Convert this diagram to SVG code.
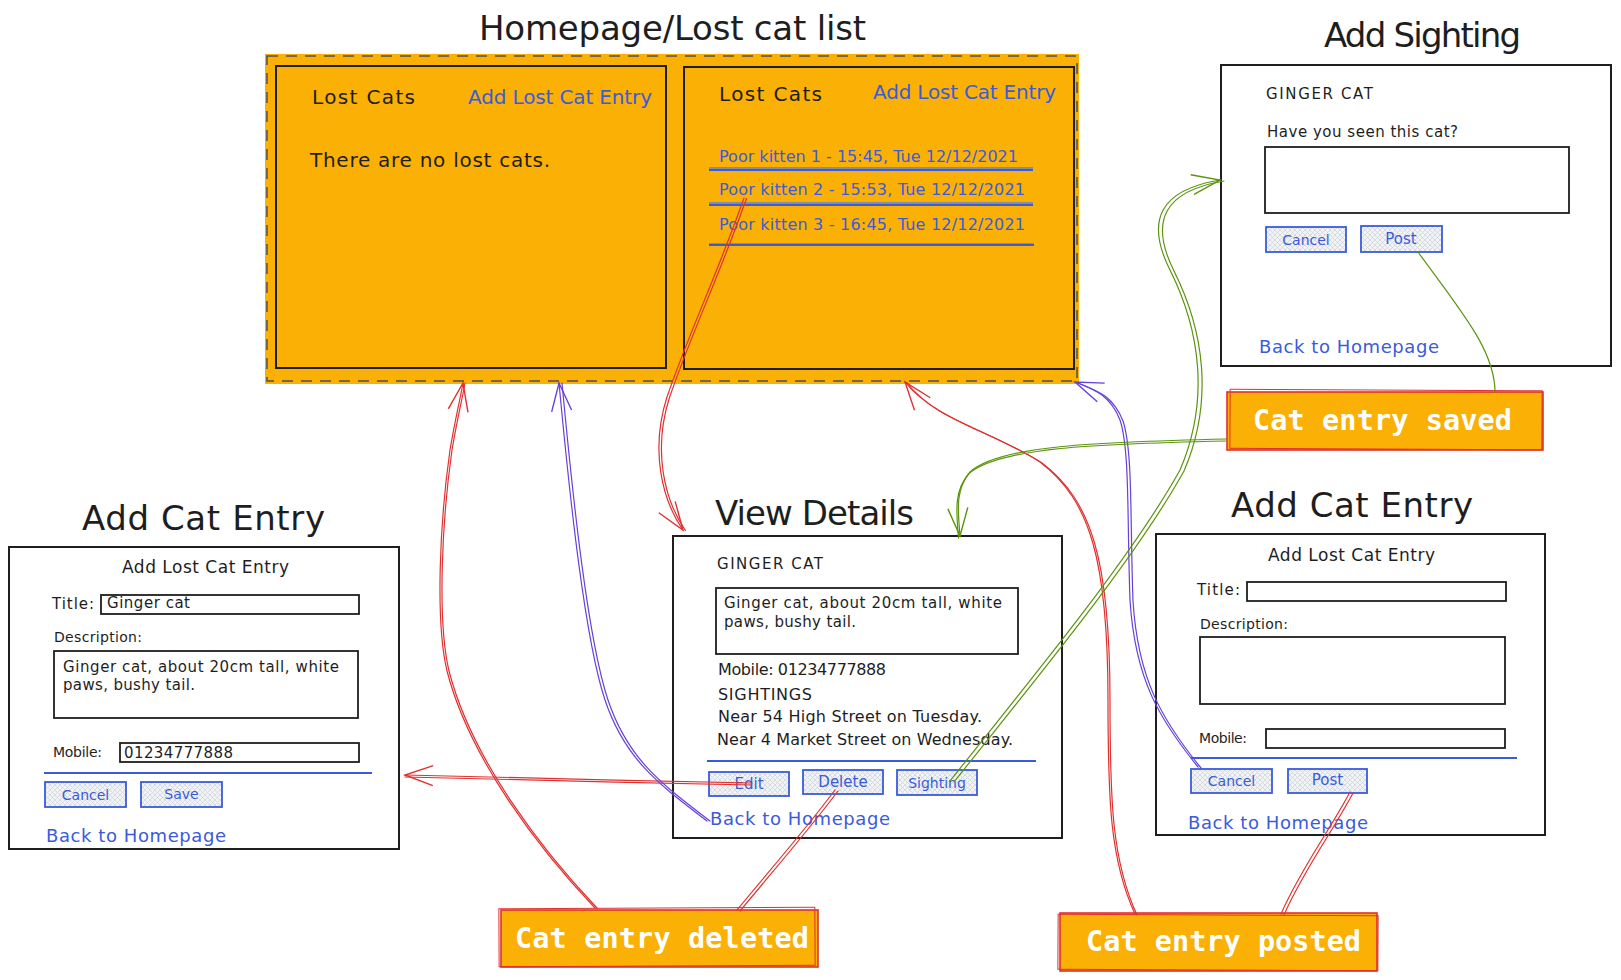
<svg xmlns="http://www.w3.org/2000/svg" width="1621" height="980" viewBox="0 0 1621 980">
<defs>
<style>
.h{font-family:"DejaVu Sans","Liberation Sans",sans-serif;fill:#1e1e1e}
.b{fill:#3b5bdb}
.t34{font-size:34px}
.box{fill:#fff;stroke:#1e1e1e;stroke-width:2}
.obox{fill:#fab005;stroke:#1e1e1e;stroke-width:2}
.inp{fill:none;stroke:#1e1e1e;stroke-width:1.8}
.btn{fill:url(#hatch);stroke:#3b5bdb;stroke-width:1.8}
.sep{stroke:#3b5bdb;stroke-width:2;fill:none}
.sh{stroke:#868e96;stroke-width:2;fill:none}
.lab{fill:#fab005;stroke:#e03131;stroke-width:1.6}
.lab2{fill:none;stroke:#e03131;stroke-width:1}
.lt{font-family:"DejaVu Sans Mono","Liberation Mono",monospace;font-weight:bold;fill:#fff;font-size:28.5px}
.c{fill:none;stroke-width:1.2;stroke-linecap:round}
.red{stroke:#e03131}
.pur{stroke:#6741d9}
.grn{stroke:#5c940d}
</style>
<pattern id="hatch" width="5" height="5" patternUnits="userSpaceOnUse">
<rect width="5" height="5" fill="#f1f3f5"/>
<path d="M0,5 L5,0 M0,0 L5,5" stroke="#ced4da" stroke-width="0.8"/>
</pattern>
<marker id="ar-red" viewBox="-30 -14 34 28" refX="0" refY="0" markerWidth="34" markerHeight="28" markerUnits="userSpaceOnUse" orient="auto"><path d="M-28,-10 L0,0 L-28,10" fill="none" stroke="#e03131" stroke-width="1.4"/></marker>
<marker id="ar-pur" viewBox="-30 -14 34 28" refX="0" refY="0" markerWidth="34" markerHeight="28" markerUnits="userSpaceOnUse" orient="auto"><path d="M-28,-10 L0,0 L-28,10" fill="none" stroke="#6741d9" stroke-width="1.4"/></marker>
<marker id="ar-grn" viewBox="-30 -14 34 28" refX="0" refY="0" markerWidth="34" markerHeight="28" markerUnits="userSpaceOnUse" orient="auto"><path d="M-28,-10 L0,0 L-28,10" fill="none" stroke="#5c940d" stroke-width="1.4"/></marker>
</defs>
<rect width="1621" height="980" fill="#fff"/>

<g id="homepage">
<text class="h t34" x="479" y="40" textLength="387">Homepage/Lost cat list</text>
<rect x="265" y="54" width="814" height="330" fill="#fab005"/>
<rect x="267" y="56" width="810" height="325" fill="none" stroke="#495057" stroke-width="1.5" stroke-dasharray="11 8"/>
<rect class="obox" x="276" y="66" width="390" height="302"/>
<text class="h" x="312" y="104" font-size="20" textLength="103">Lost Cats</text>
<text class="h b" x="468" y="104" font-size="20" textLength="184">Add Lost Cat Entry</text>
<text class="h" x="310" y="167" font-size="20" textLength="240">There are no lost cats.</text>
<rect class="obox" x="684" y="67" width="390" height="302"/>
<text class="h" x="719" y="101" font-size="20" textLength="103">Lost Cats</text>
<text class="h b" x="873" y="99" font-size="20" textLength="183">Add Lost Cat Entry</text>
<text class="h b" x="719" y="162" font-size="16" textLength="299">Poor kitten 1 - 15:45, Tue 12/12/2021</text>
<line class="sh" x1="709" y1="168" x2="1033" y2="168"/>
<line class="sep" x1="709" y1="170" x2="1033" y2="170"/>
<text class="h b" x="719" y="195" font-size="16" textLength="306">Poor kitten 2 - 15:53, Tue 12/12/2021</text>
<line class="sh" x1="709" y1="203" x2="1033" y2="203"/>
<line class="sep" x1="709" y1="205" x2="1033" y2="205"/>
<text class="h b" x="719" y="230" font-size="16" textLength="306">Poor kitten 3 - 16:45, Tue 12/12/2021</text>
<line class="sh" x1="709" y1="244" x2="1034" y2="244"/>
<line class="sep" x1="709" y1="245" x2="1034" y2="245"/>
</g>

<g id="add-sighting">
<text class="h t34" x="1324" y="47" textLength="197">Add Sighting</text>
<rect class="box" x="1221" y="65" width="390" height="301"/>
<text class="h" x="1266" y="99" font-size="15" textLength="107">GINGER CAT</text>
<text class="h" x="1267" y="137" font-size="15" textLength="191">Have you seen this cat?</text>
<rect class="inp" x="1265" y="147" width="304" height="66"/>
<rect class="btn" x="1266" y="227" width="80" height="25"/>
<text class="h b" x="1306" y="245" font-size="14" text-anchor="middle">Cancel</text>
<rect class="btn" x="1361" y="226" width="81" height="26"/>
<text class="h b" x="1401" y="244" font-size="15" text-anchor="middle">Post</text>
<text class="h b" x="1259" y="353" font-size="18" textLength="180">Back to Homepage</text>
</g>

<g id="add-cat-entry-filled">
<text class="h t34" x="82" y="530" textLength="243">Add Cat Entry</text>
<rect class="box" x="9" y="547" width="390" height="302"/>
<text class="h" x="122" y="573" font-size="17" textLength="167">Add Lost Cat Entry</text>
<text class="h" x="52" y="609" font-size="15" textLength="42">Title:</text>
<rect class="inp" x="101" y="595" width="258" height="19"/>
<text class="h" x="107" y="608" font-size="15" textLength="83">Ginger cat</text>
<text class="h" x="54" y="642" font-size="14" textLength="88">Description:</text>
<rect class="inp" x="54" y="651" width="304" height="67"/>
<text class="h" x="63" y="672" font-size="15" textLength="276">Ginger cat, about 20cm tall, white</text>
<text class="h" x="63" y="690" font-size="15" textLength="132">paws, bushy tail.</text>
<text class="h" x="53" y="757" font-size="14" textLength="49">Mobile:</text>
<rect class="inp" x="120" y="743" width="239" height="19"/>
<text class="h" x="124" y="758" font-size="15" textLength="109">01234777888</text>
<line class="sep" x1="44" y1="773" x2="372" y2="773"/>
<rect class="btn" x="45" y="782" width="81" height="25"/>
<text class="h b" x="85.500" y="800" font-size="14" text-anchor="middle">Cancel</text>
<rect class="btn" x="141" y="782" width="81" height="25"/>
<text class="h b" x="181.500" y="799" font-size="14" text-anchor="middle">Save</text>
<text class="h b" x="46" y="842" font-size="18" textLength="180">Back to Homepage</text>
</g>

<g id="view-details">
<text class="h t34" x="715" y="525" textLength="199">View Details</text>
<rect class="box" x="673" y="536" width="389" height="302"/>
<text class="h" x="717" y="569" font-size="15" textLength="106">GINGER CAT</text>
<rect class="inp" x="716" y="588" width="302" height="66"/>
<text class="h" x="724" y="608" font-size="15" textLength="278">Ginger cat, about 20cm tall, white</text>
<text class="h" x="724" y="627" font-size="15" textLength="132">paws, bushy tail.</text>
<text class="h" x="718" y="675" font-size="16" textLength="168">Mobile: 01234777888</text>
<text class="h" x="718" y="700" font-size="16" textLength="94">SIGHTINGS</text>
<text class="h" x="718" y="722" font-size="16" textLength="264">Near 54 High Street on Tuesday.</text>
<text class="h" x="717" y="745" font-size="16" textLength="296">Near 4 Market Street on Wednesday.</text>
<line class="sep" x1="707" y1="761" x2="1036" y2="761"/>
<rect class="btn" x="709" y="772" width="80" height="24"/>
<text class="h b" x="749" y="789" font-size="15" text-anchor="middle">Edit</text>
<rect class="btn" x="803" y="770" width="80" height="24"/>
<text class="h b" x="843" y="787" font-size="15" text-anchor="middle">Delete</text>
<rect class="btn" x="897" y="770" width="80" height="25"/>
<text class="h b" x="937" y="788" font-size="14" text-anchor="middle">Sighting</text>
<text class="h b" x="710" y="825" font-size="18" textLength="180">Back to Homepage</text>
</g>

<g id="add-cat-entry-empty">
<text class="h t34" x="1231" y="517" textLength="242">Add Cat Entry</text>
<rect class="box" x="1156" y="534" width="389" height="301"/>
<text class="h" x="1268" y="561" font-size="17" textLength="167">Add Lost Cat Entry</text>
<text class="h" x="1197" y="595" font-size="15" textLength="43">Title:</text>
<rect class="inp" x="1247" y="582" width="259" height="19"/>
<text class="h" x="1200" y="629" font-size="14" textLength="88">Description:</text>
<rect class="inp" x="1200" y="637" width="305" height="67"/>
<text class="h" x="1199" y="743" font-size="14" textLength="48">Mobile:</text>
<rect class="inp" x="1266" y="729" width="239" height="19"/>
<line class="sep" x1="1191" y1="758" x2="1517" y2="758"/>
<rect class="btn" x="1191" y="769" width="81" height="24"/>
<text class="h b" x="1231.500" y="786" font-size="14" text-anchor="middle">Cancel</text>
<rect class="btn" x="1288" y="769" width="79" height="24"/>
<text class="h b" x="1327.500" y="785" font-size="15" text-anchor="middle">Post</text>
<text class="h b" x="1188" y="829" font-size="18" textLength="180">Back to Homepage</text>
</g>

<g id="label-saved">
<rect class="lab" x="1227" y="392" width="316" height="58"/>
<rect class="lab2" x="1230" y="390" width="312" height="59" transform="rotate(0.3 1386 420)"/>
<text class="lt" x="1253" y="430" textLength="259">Cat entry saved</text>
</g>
<g id="label-deleted">
<rect class="lab" x="501" y="910" width="317" height="57"/>
<rect class="lab2" x="499" y="908" width="316" height="58" transform="rotate(-0.3 659 938)"/>
<text class="lt" x="515" y="948" textLength="294">Cat entry deleted</text>
</g>
<g id="label-posted">
<rect class="lab" x="1060" y="913" width="317" height="58"/>
<rect class="lab2" x="1058" y="915" width="320" height="55" transform="rotate(0.3 1218 942)"/>
<text class="lt" x="1086" y="951" textLength="275">Cat entry posted</text>
</g>

<g id="connectors">
<path class="c red" d="M744,198 C715,280 690,330 667,397 C650,450 662,500 683,530" marker-end="url(#ar-red)"/>
<path class="c red" d="M744,198 C715,280 690,330 667,397 C650,450 662,500 683,530" transform="translate(2.5,0.5)"/>
<path class="c red" d="M752,783 C640,781 500,777 405,775" marker-end="url(#ar-red)"/>
<path class="c red" d="M752,783 C640,781 500,777 405,775" transform="translate(0,2)"/>
<path class="c red" d="M595,908 C540,850 470,760 447,671 C435,620 440,520 450,450 C455,420 460,400 463,383" marker-end="url(#ar-red)"/>
<path class="c red" d="M595,908 C540,850 470,760 447,671 C435,620 440,520 450,450 C455,420 460,400 463,383" transform="translate(2,0)"/>
<path class="c red" d="M835,790 C805,830 770,870 737,910"/>
<path class="c red" d="M835,790 C805,830 770,870 737,910" transform="translate(3,1)"/>
<path class="c pur" d="M707,821 C660,785 625,760 605,700 C585,640 570,500 559,383" marker-end="url(#ar-pur)"/>
<path class="c pur" d="M707,821 C660,785 625,760 605,700 C585,640 570,500 559,383" transform="translate(3,0)"/>
<path class="c red" d="M1135,914 C1110,860 1108,800 1108,700 C1108,560 1090,500 1040,462 C990,430 935,420 905,382" marker-end="url(#ar-red)"/>
<path class="c red" d="M1135,914 C1110,860 1108,800 1108,700 C1108,560 1090,500 1040,462 C990,430 935,420 905,382" transform="translate(2,1)"/>
<path class="c red" d="M1350,792 C1330,830 1300,870 1281,914"/>
<path class="c red" d="M1350,792 C1330,830 1300,870 1281,914" transform="translate(3,1)"/>
<path class="c pur" d="M1198,767 C1160,720 1135,680 1130,600 C1127,520 1130,450 1120,420 C1110,395 1095,390 1075,382" marker-end="url(#ar-pur)"/>
<path class="c pur" d="M1198,767 C1160,720 1135,680 1130,600 C1127,520 1130,450 1120,420 C1110,395 1095,390 1075,382" transform="translate(3,1)"/>
<path class="c grn" d="M950,781 C1030,680 1130,560 1180,470 C1210,400 1200,330 1170,270 C1145,220 1160,190 1220,180" marker-end="url(#ar-grn)"/>
<path class="c grn" d="M950,781 C1030,680 1130,560 1180,470 C1210,400 1200,330 1170,270 C1145,220 1160,190 1220,180" transform="translate(4,1)"/>
<path class="c grn" d="M1418,252 C1460,310 1495,350 1495,392"/>
<path class="c grn" d="M1227,439 C1100,442 1000,445 970,472 C955,490 958,510 960,536" marker-end="url(#ar-grn)"/>
<path class="c grn" d="M1227,439 C1100,442 1000,445 970,472 C955,490 958,510 960,536" transform="translate(-1.5,2)"/>
</g>
</svg>
